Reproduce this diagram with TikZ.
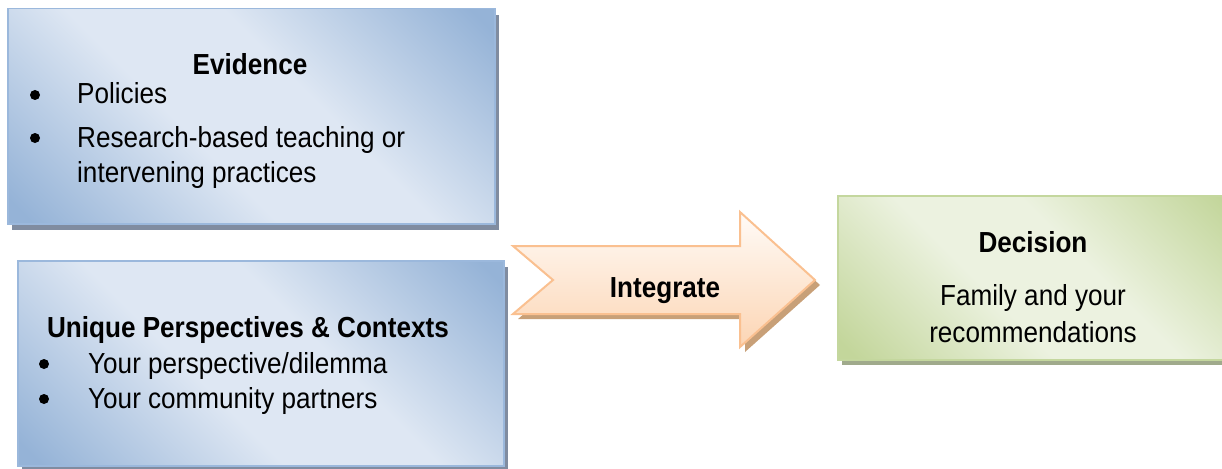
\documentclass[tikz,border=0pt]{standalone}
\usepackage{fontspec}
\setmainfont[FakeStretch=0.9]{Liberation Sans}
\usetikzlibrary{shadows}
\definecolor{bluedark}{RGB}{149,179,215}
\definecolor{bluelight}{RGB}{222,231,243}
\definecolor{blueborder}{RGB}{155,184,220}
\definecolor{shadowblue}{RGB}{128,140,160}
\definecolor{greendark}{RGB}{195,214,155}
\definecolor{greenlight}{RGB}{236,242,224}
\definecolor{greenborder}{RGB}{196,215,158}
\definecolor{shadowgreen}{RGB}{160,170,140}
\definecolor{arrowtop}{RGB}{255,251,247}
\definecolor{arrowbottom}{RGB}{252,213,180}
\definecolor{arrowborder}{RGB}{250,192,144}
\definecolor{shadowarrow}{RGB}{200,160,120}
\pgfdeclarehorizontalshading{bluediag}{100bp}{color(0bp)=(bluedark); color(17bp)=(bluedark); color(42bp)=(bluelight); color(58bp)=(bluelight); color(83bp)=(bluedark); color(100bp)=(bluedark)}
\pgfdeclarehorizontalshading{greendiag}{100bp}{color(0bp)=(greendark); color(17bp)=(greendark); color(42bp)=(greenlight); color(58bp)=(greenlight); color(83bp)=(greendark); color(100bp)=(greendark)}
\begin{document}
\begin{tikzpicture}[x=1pt,y=-1pt,
  hdr/.style={font=\fontsize{29}{33}\selectfont\bfseries, inner sep=0pt},
  txt/.style={font=\fontsize{29}{33}\selectfont, inner sep=0pt},
  dot/.style={circle, fill=black, inner sep=0pt, minimum size=10pt},
  bluebox/.style={draw=blueborder, line width=1.5pt, shading=bluediag, shading angle=45, anchor=north west,
    drop shadow={shadow xshift=4pt, shadow yshift=-6pt, fill=shadowblue, opacity=1}},
  greenbox/.style={draw=greenborder, line width=1.5pt, shading=greendiag, shading angle=45, anchor=north west,
    drop shadow={shadow xshift=4pt, shadow yshift=-5pt, fill=shadowgreen, opacity=1}},
  arrowshape/.style={draw=arrowborder, line width=2pt, top color=arrowtop, bottom color=arrowbottom, line join=miter}
]
\useasboundingbox (0,0) rectangle (1222,468);

% boxes
\node[bluebox, minimum width=487, minimum height=215] (ev) at (7,8) {};
\node[bluebox, minimum width=486, minimum height=205] (up) at (17,260) {};
\node[greenbox, minimum width=400, minimum height=164] (dec) at (837,195) {};

% arrow
\fill[shadowarrow, shift={(5,5)}] (513,246) -- (740,246) -- (740,212) -- (815,280) -- (740,347) -- (740,314) -- (513,314) -- (553,280) -- cycle;
\path[arrowshape] (513,246) -- (740,246) -- (740,212) -- (815,280) -- (740,347) -- (740,314) -- (513,314) -- (553,280) -- cycle;

% Evidence text
\node[hdr, anchor=base] (evh) at (250,75) {Evidence};
\node[dot] (evb1) at (35,95) {};
\node[txt, anchor=base west] (evt1) at (77,104) {Policies};
\node[dot] (evb2) at (35,138) {};
\node[txt, anchor=base west] (evt2) at (77,147) {Research-based teaching or};
\node[txt, anchor=base west] (evt3) at (77,182) {intervening practices};

% Unique text
\node[hdr, anchor=base] (uph) at (248,337) {Unique Perspectives \& Contexts};
\node[dot] (upb1) at (44,364) {};
\node[txt, anchor=base west] (upt1) at (88,373) {Your perspective/dilemma};
\node[dot] (upb2) at (44,399) {};
\node[txt, anchor=base west] (upt2) at (88,408) {Your community partners};

% Integrate
\node[hdr, anchor=base] (int) at (665,297) {Integrate};

% Decision text
\node[hdr, anchor=base] (dech) at (1033,252) {Decision};
\node[txt, anchor=base] (dect1) at (1033,305) {Family and your};
\node[txt, anchor=base] (dect2) at (1033,342) {recommendations};
\end{tikzpicture}
\end{document}
